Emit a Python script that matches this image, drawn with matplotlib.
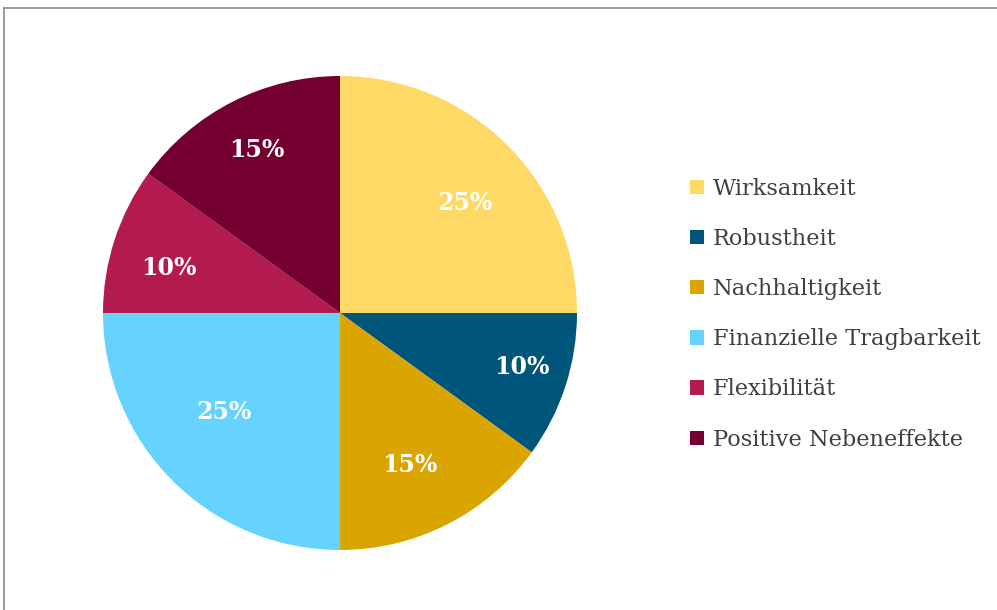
import numpy as np
import matplotlib.pyplot as plt
from matplotlib.patches import Patch
from matplotlib.lines import Line2D

# data
categories = ['Wirksamkeit', 'Robustheit', 'Nachhaltigkeit',
              'Finanzielle Tragbarkeit', 'Flexibilität', 'Positive Nebeneffekte']
shares = [25, 10, 15, 25, 10, 15]
colors = ['#FFD966', '#00557A', '#DAA500', '#66D3FF', '#B31A50', '#730030']

# "best fit" placement of the percentage labels: radius fraction and angle nudge (deg)
label_radius = [0.703, 0.801, 0.706, 0.643, 0.748, 0.773]
label_nudge = [-3.7, 1.5, -2.3, -4.5, 3.3, 0.1]

plt.rcParams['font.family'] = ['DejaVu Serif']

fig = plt.figure(figsize=(9.97, 6.10), dpi=100)

# pie axes: centre around (340, 313) px, radius ~237 px
W, H = 997, 610
cx, cy, r = 340, 313, 237
ax = fig.add_axes([(cx - r) / W, (H - cy - r) / H, 2 * r / W, 2 * r / H])

wedges, texts = ax.pie(shares, colors=colors, startangle=90, counterclock=False,
                       wedgeprops=dict(linewidth=0))
for w, s, lr, nd in zip(wedges, shares, label_radius, label_nudge):
    mid = np.deg2rad((w.theta1 + w.theta2) / 2 + nd)
    ax.text(lr * np.cos(mid), lr * np.sin(mid), '%d%%' % s, ha='center', va='center',
            color='white', fontsize=17, fontweight='bold')
ax.set_aspect('equal')
ax.set_xlim(-1, 1)
ax.set_ylim(-1, 1)

handles = [Patch(facecolor=c, edgecolor='none') for c in colors]
leg = fig.legend(handles, categories, loc='upper left', bbox_to_anchor=(690 / W, 1 - 178 / H),
                 frameon=False, fontsize=16.2, handlelength=0.6, handleheight=0.6,
                 handletextpad=0.4, labelspacing=1.25, borderaxespad=0, borderpad=0)
for t in leg.get_texts():
    t.set_color('#404040')

# partial frame line as in the screenshot (top and left only)
fig.add_artist(Line2D([3.5 / W, 3.5 / W], [0, 1 - 8 / H], transform=fig.transFigure,
                      color='#8c8c8c', linewidth=1.2))
fig.add_artist(Line2D([3.5 / W, 1], [1 - 8 / H, 1 - 8 / H], transform=fig.transFigure,
                      color='#8c8c8c', linewidth=1.2))

fig.savefig('out.png', dpi=100)
